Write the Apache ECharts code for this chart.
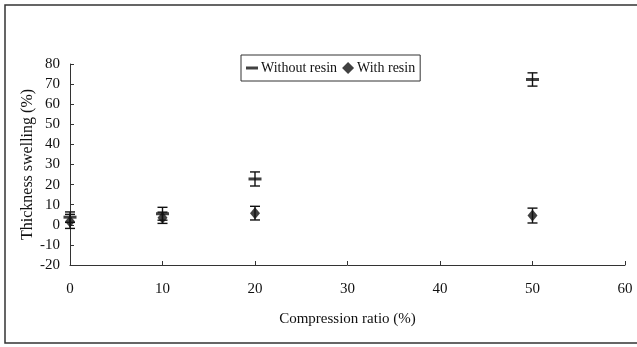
<!DOCTYPE html>
<html>
<head>
<meta charset="utf-8">
<script src="https://cdn.jsdelivr.net/npm/echarts@6/dist/echarts.min.js"></script>
<style>
html, body { margin: 0; padding: 0; background: #fff; }
#chart { width: 637px; height: 347px; }
</style>
</head>
<body>
<div id="chart"></div>
<script>
// compression ratio (%)
const ratios = [0, 10, 20, 50];
// thickness swelling (%) and error (±)
const withoutMean = [3.8, 5.5, 22.8, 72.3];
const withoutErr = [2.6, 3.2, 3.5, 3.3];
const withMean = [1.7, 3.5, 5.8, 4.6];
const withErr = [3.5, 2.8, 3.4, 3.7];
const yTicks = [-20, -10, 0, 10, 20, 30, 40, 50, 60, 70, 80];

const font = 'Liberation Serif, Times New Roman, serif';

function pts(mean) {
  return ratios.map((x, i) => [x, mean[i]]);
}
function bars(mean, err) {
  return ratios.map((x, i) => [x, mean[i] - err[i], mean[i] + err[i]]);
}

function errBar(params, api) {
  const x = api.value(0);
  const lo = api.coord([x, api.value(1)]);
  const hi = api.coord([x, api.value(2)]);
  const w = 5;
  const st = { stroke: '#111', lineWidth: 1.4 };
  return {
    type: 'group',
    children: [
      { type: 'line', shape: { x1: lo[0], y1: lo[1], x2: hi[0], y2: hi[1] }, style: st },
      { type: 'line', shape: { x1: lo[0] - w, y1: lo[1], x2: lo[0] + w, y2: lo[1] }, style: st },
      { type: 'line', shape: { x1: hi[0] - w, y1: hi[1], x2: hi[0] + w, y2: hi[1] }, style: st }
    ]
  };
}

const chart = echarts.init(document.getElementById('chart'));
chart.setOption({
  animation: false,
  textStyle: { fontFamily: font },
  graphic: [{
    type: 'rect',
    shape: { x: 5, y: 5, width: 650, height: 338 },
    style: { fill: 'none', stroke: '#333', lineWidth: 1.5 },
    silent: true
  }],
  grid: { left: 70, right: 12, top: 64, bottom: 82 },
  legend: {
    left: 241,
    top: 55,
    padding: [6, 5, 6, 5],
    itemGap: 5,
    itemWidth: 12,
    itemHeight: 12,
    borderColor: '#333',
    borderWidth: 1,
    textStyle: { fontFamily: font, fontSize: 14, color: '#111', padding: [0, 0, 0, -2] },
    data: [
      { name: 'Without resin', icon: 'path://M0,5 L12,5 L12,8 L0,8 Z' },
      { name: 'With resin', icon: 'diamond' }
    ]
  },
  xAxis: {
    type: 'value',
    min: 0,
    max: 60,
    interval: 10,
    name: 'Compression ratio (%)',
    nameLocation: 'middle',
    nameGap: 47,
    nameMoveOverlap: false,
    nameTextStyle: { fontFamily: font, fontSize: 15, color: '#111' },
    axisLine: { onZero: false, lineStyle: { color: '#333', width: 1 } },
    axisTick: { inside: true, length: 4, lineStyle: { color: '#333' } },
    axisLabel: { fontFamily: font, fontSize: 15, color: '#111', margin: 17 },
    splitLine: { show: false }
  },
  yAxis: {
    type: 'value',
    min: yTicks[0],
    max: yTicks[yTicks.length - 1],
    interval: 10,
    name: 'Thickness swelling (%)',
    nameLocation: 'middle',
    nameGap: 34,
    nameMoveOverlap: false,
    nameTextStyle: { fontFamily: font, fontSize: 16, color: '#111' },
    axisLine: { show: true, onZero: false, lineStyle: { color: '#333', width: 1 } },
    axisTick: { show: true, inside: true, length: 4, lineStyle: { color: '#333' } },
    axisLabel: { fontFamily: font, fontSize: 15, color: '#111', margin: 10 },
    splitLine: { show: false }
  },
  series: [
    {
      name: 'Without resin',
      type: 'scatter',
      symbol: 'rect',
      symbolSize: [13, 3],
      itemStyle: { color: '#111' },
      data: pts(withoutMean),
      z: 3
    },
    {
      name: 'With resin',
      type: 'scatter',
      symbol: 'diamond',
      symbolSize: [10, 12],
      itemStyle: { color: '#111' },
      data: pts(withMean),
      z: 3
    },
    {
      type: 'custom',
      renderItem: errBar,
      data: bars(withoutMean, withoutErr),
      z: 2
    },
    {
      type: 'custom',
      renderItem: errBar,
      data: bars(withMean, withErr),
      z: 2
    }
  ]
});
</script>
</body>
</html>
